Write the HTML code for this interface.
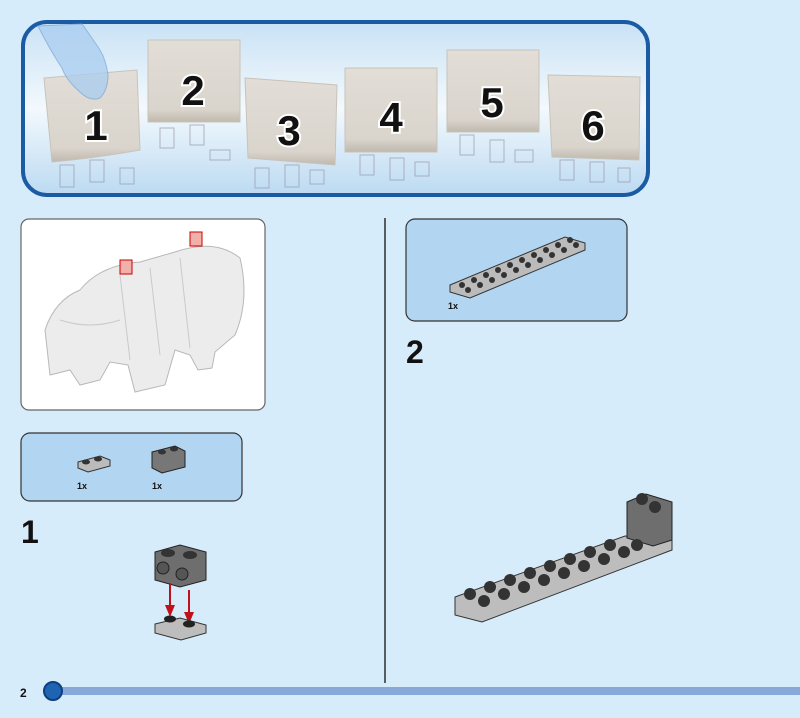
<!DOCTYPE html>
<html><head><style>
html,body{margin:0;padding:0;width:800px;height:718px;overflow:hidden;background:#d7ecfa;}
svg{display:block}
text{font-family:"Liberation Sans",sans-serif;font-weight:bold}
</style></head><body>
<svg width="800" height="718" viewBox="0 0 800 718">
<defs>
<linearGradient id="bg" x1="0" y1="0" x2="0" y2="1">
<stop offset="0" stop-color="#c9e2f5"/><stop offset="0.5" stop-color="#f3f9fd"/><stop offset="1" stop-color="#bcdaf2"/>
</linearGradient>
<linearGradient id="bag" x1="0" y1="0" x2="0" y2="1">
<stop offset="0" stop-color="#e2ded7"/><stop offset="0.85" stop-color="#d9d4cc"/><stop offset="1" stop-color="#bfb8ad"/>
</linearGradient>
</defs>
<rect width="800" height="718" fill="#d7ecfa"/>
<!-- banner -->
<rect x="23" y="22" width="625" height="173" rx="24" fill="url(#bg)" stroke="#1b5ba3" stroke-width="4"/>
<g fill="none" stroke="#99a" stroke-width="1" opacity="0.7">
<rect x="60" y="165" width="14" height="22"/><rect x="90" y="160" width="14" height="22"/><rect x="120" y="168" width="14" height="16"/>
<rect x="160" y="128" width="14" height="20"/><rect x="190" y="125" width="14" height="20"/><rect x="210" y="150" width="20" height="10"/>
<rect x="255" y="168" width="14" height="20"/><rect x="285" y="165" width="14" height="22"/><rect x="310" y="170" width="14" height="14"/>
<rect x="360" y="155" width="14" height="20"/><rect x="390" y="158" width="14" height="22"/><rect x="415" y="162" width="14" height="14"/>
<rect x="460" y="135" width="14" height="20"/><rect x="490" y="140" width="14" height="22"/><rect x="515" y="150" width="18" height="12"/>
<rect x="560" y="160" width="14" height="20"/><rect x="590" y="162" width="14" height="20"/><rect x="618" y="168" width="12" height="14"/>
</g>
<g fill="url(#bag)" stroke="#c8c3ba" stroke-width="1">
<path d="M44 78 L137 70 L140 150 Q95 158 52 162 Z"/>
<rect x="148" y="40" width="92" height="82"/>
<path d="M245 78 L337 85 L335 165 L248 158 Z"/>
<rect x="345" y="68" width="92" height="84"/>
<rect x="447" y="50" width="92" height="82"/>
<path d="M548 75 L640 77 L639 160 L552 157 Z"/>
</g>
<path d="M38 26 Q50 50 62 68 Q66 80 80 92 Q90 102 100 98 Q108 90 108 75 Q106 60 100 50 Q90 35 82 24 Z" fill="#a9cdf0" opacity="0.75" stroke="#7aa5d8"/>
<g font-size="42" fill="#111" stroke="#fff" stroke-width="4" paint-order="stroke" text-anchor="middle">
<text x="96" y="140">1</text><text x="193" y="105">2</text><text x="289" y="145">3</text>
<text x="391" y="132">4</text><text x="492" y="117">5</text><text x="593" y="140">6</text>
</g>
<!-- model box -->
<rect x="21" y="219" width="244" height="191" rx="8" fill="#fff" stroke="#666" stroke-width="1.2"/>
<g fill="#ececec" stroke="#b8b8b8">
<path d="M45 330 Q55 300 80 290 Q100 265 140 262 L175 252 Q215 238 240 258 Q250 300 235 335 L215 352 L212 368 L198 370 L190 355 L175 350 L165 385 L135 392 L128 365 L110 362 L100 380 L80 385 L70 370 L50 375 Z"/>
</g>
<g stroke="#c9c9c9" fill="none"><path d="M120 275 L130 360"/><path d="M150 268 L160 355"/><path d="M180 258 L190 348"/><path d="M60 320 Q90 330 120 320"/></g>
<rect x="190" y="232" width="12" height="14" fill="#f2b0aa" stroke="#c00"/>
<rect x="120" y="260" width="12" height="14" fill="#f2b0aa" stroke="#c00"/>
<!-- parts box 1 -->
<rect x="21" y="433" width="221" height="68" rx="9" fill="#b2d6f1" stroke="#333" stroke-width="1.2"/>
<path d="M78 462 L100 456 L110 460 L110 466 L88 472 L78 468 Z" fill="#bbb" stroke="#333"/>
<ellipse cx="86" cy="462" rx="4" ry="2.5" fill="#333"/><ellipse cx="98" cy="459" rx="4" ry="2.5" fill="#333"/>
<path d="M152 452 L175 446 L185 451 L185 467 L162 473 L152 468 Z" fill="#777" stroke="#222"/>
<ellipse cx="162" cy="452" rx="4" ry="2.5" fill="#333"/><ellipse cx="174" cy="449" rx="4" ry="2.5" fill="#333"/>
<g font-size="9" fill="#111"><text x="77" y="489">1x</text><text x="152" y="489">1x</text></g>
<text x="21" y="543" font-size="32" fill="#111">1</text>
<!-- step 1 -->
<path d="M155 552 L180 545 L206 552 L206 580 L180 587 L155 580 Z" fill="#6e6e6e" stroke="#222"/>
<ellipse cx="168" cy="553" rx="7" ry="4" fill="#333"/><ellipse cx="190" cy="555" rx="7" ry="4" fill="#333"/>
<circle cx="163" cy="568" r="6" fill="#555" stroke="#222"/><circle cx="182" cy="574" r="6" fill="#555" stroke="#222"/>
<g stroke="#c0101a" stroke-width="2"><line x1="170" y1="583" x2="170" y2="612"/><line x1="189" y1="590" x2="189" y2="620"/></g>
<g fill="#c0101a"><path d="M165 605 L175 605 L170 617 Z"/><path d="M184 612 L194 612 L189 624 Z"/></g>
<path d="M155 624 L180 618 L206 625 L206 633 L181 640 L155 633 Z" fill="#bdbdbd" stroke="#333"/>
<ellipse cx="170" cy="619" rx="6" ry="3.5" fill="#222"/><ellipse cx="189" cy="624" rx="6" ry="3.5" fill="#222"/>
<!-- divider -->
<line x1="385" y1="218" x2="385" y2="683" stroke="#111" stroke-width="1.3"/>
<!-- parts box 2 -->
<rect x="406" y="219" width="221" height="102" rx="9" fill="#b2d6f1" stroke="#333" stroke-width="1.2"/>
<path d="M450 285 L565 237 L585 243 L585 250 L470 298 L450 292 Z" fill="#bbb" stroke="#333"/>
<g fill="#333">
<circle cx="462" cy="285" r="3"/><circle cx="474" cy="280" r="3"/><circle cx="486" cy="275" r="3"/><circle cx="498" cy="270" r="3"/><circle cx="510" cy="265" r="3"/><circle cx="522" cy="260" r="3"/><circle cx="534" cy="255" r="3"/><circle cx="546" cy="250" r="3"/><circle cx="558" cy="245" r="3"/><circle cx="570" cy="240" r="3"/>
<circle cx="468" cy="290" r="3"/><circle cx="480" cy="285" r="3"/><circle cx="492" cy="280" r="3"/><circle cx="504" cy="275" r="3"/><circle cx="516" cy="270" r="3"/><circle cx="528" cy="265" r="3"/><circle cx="540" cy="260" r="3"/><circle cx="552" cy="255" r="3"/><circle cx="564" cy="250" r="3"/><circle cx="576" cy="245" r="3"/>
</g>
<text x="448" y="309" font-size="9" fill="#111">1x</text>
<text x="406" y="363" font-size="32" fill="#111">2</text>
<!-- step 2 -->
<path d="M455 597 L625 536 L672 540 L672 550 L482 622 L455 615 Z" fill="#bdbdbd" stroke="#333"/>
<path d="M627 502 L646 494 L672 502 L672 540 L653 546 L627 538 Z" fill="#6e6e6e" stroke="#222"/>
<g fill="#333">
<circle cx="470" cy="594" r="6"/><circle cx="490" cy="587" r="6"/><circle cx="510" cy="580" r="6"/><circle cx="530" cy="573" r="6"/><circle cx="550" cy="566" r="6"/><circle cx="570" cy="559" r="6"/><circle cx="590" cy="552" r="6"/><circle cx="610" cy="545" r="6"/>
<circle cx="484" cy="601" r="6"/><circle cx="504" cy="594" r="6"/><circle cx="524" cy="587" r="6"/><circle cx="544" cy="580" r="6"/><circle cx="564" cy="573" r="6"/><circle cx="584" cy="566" r="6"/><circle cx="604" cy="559" r="6"/><circle cx="624" cy="552" r="6"/><circle cx="637" cy="545" r="6"/>
<circle cx="642" cy="499" r="6"/><circle cx="655" cy="507" r="6"/>
</g>
<!-- footer -->
<rect x="60" y="687" width="740" height="8" fill="#88a8da"/>
<circle cx="53" cy="691" r="9" fill="#1f63b3" stroke="#0d3e80" stroke-width="2"/>
<text x="20" y="697" font-size="12" fill="#111">2</text>
</svg>
</body></html>
